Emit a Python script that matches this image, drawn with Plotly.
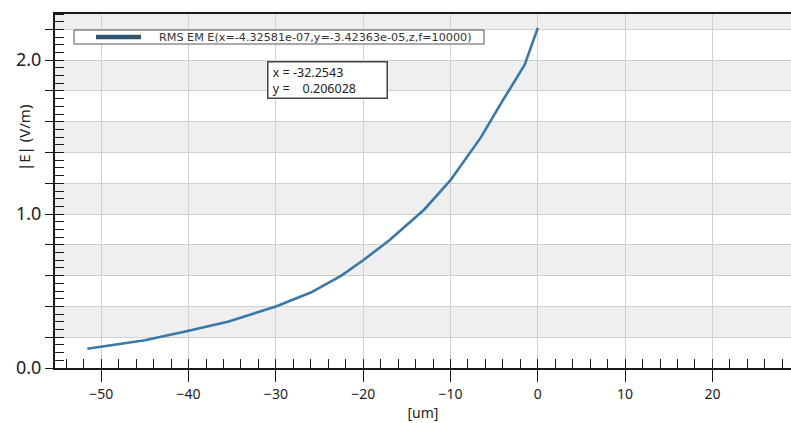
import plotly.graph_objects as go

# ---- data ----
x_um = [-51.6, -48.4, -45.0, -40.5, -35.5, -30.0, -26.0, -22.5, -20.0, -17.0,
        -13.0, -10.0, -6.5, -4.0, -1.5, 0.0]
e_field = [0.125, 0.15, 0.18, 0.235, 0.30, 0.40, 0.49, 0.60, 0.70, 0.83,
           1.03, 1.22, 1.50, 1.74, 1.97, 2.21]
series_name = "RMS EM E(x=-4.32581e-07,y=-3.42363e-05,z,f=10000)"
y_tickvals = [0.0, 0.2, 0.4, 0.6, 0.8, 1.0, 1.2, 1.4, 1.6, 1.8, 2.0, 2.2]
y_ticktext = ["0.0", "", "", "", "", "1.0", "", "", "", "", "2.0", ""]
band_starts = [0.2, 0.6, 1.0, 1.4, 1.8, 2.2]
band_height = 0.2
cursor_lines = ["x = -32.2543", "y = \u00a0\u00a0 0.206028"]

X_RANGE = [-55.3, 29.0]
Y_RANGE = [0.0, 2.3]

W, H = 791, 423
ML, MR, MT, MB = 55, 0, 14, 55
pw = W - ML - MR
ph = H - MT - MB


def px_x(p):  # pixel column -> paper x
    return (p - ML) / pw


def px_y(p):  # pixel row -> paper y
    return (H - MB - p) / ph


fig = go.Figure()
fig.add_trace(go.Scatter(
    x=x_um, y=e_field, mode="lines", name=series_name, showlegend=False,
    line=dict(color="#3a78a8", width=2.6),
))

shapes = []
for b in band_starts:
    shapes.append(dict(type="rect", xref="paper", yref="y", x0=0, x1=1,
                       y0=b, y1=min(b + band_height, Y_RANGE[1]),
                       fillcolor="#efefef", line=dict(width=0), layer="below"))
# legend box drawn by hand (to match the reference's spacing)
shapes.append(dict(type="rect", xref="paper", yref="paper",
                   x0=px_x(74), x1=px_x(484), y0=px_y(44), y1=px_y(30),
                   fillcolor="white", line=dict(color="#555", width=1), layer="above"))
shapes.append(dict(type="line", xref="paper", yref="paper",
                   x0=px_x(96), x1=px_x(141), y0=px_y(37), y1=px_y(37),
                   line=dict(color="#34556f", width=4.5), layer="above"))

axis_font = dict(family="Noto Sans, Open Sans, sans-serif", color="#222")
cursor_text = "<br>".join("\u00a0" + s for s in cursor_lines)

fig.update_layout(
    width=W, height=H,
    margin=dict(l=ML, r=MR, t=MT, b=MB, pad=0, autoexpand=False),
    paper_bgcolor="white", plot_bgcolor="white",
    shapes=shapes,
    showlegend=False,
    xaxis=dict(range=X_RANGE, dtick=10, tick0=0, showgrid=True, gridcolor="#cfcfcf",
               gridwidth=1, zeroline=False, showline=True, linecolor="#1a1a1a",
               linewidth=2, mirror=True, ticks="outside", ticklen=12, tickwidth=1.3,
               tickcolor="#1a1a1a", tickfont=dict(size=14, **axis_font),
               minor=dict(dtick=2, tick0=0, ticks="inside", ticklen=9, tickwidth=1.3,
                          tickcolor="#1a1a1a", showgrid=False),
               title=dict(text="[um]", font=dict(size=14, **axis_font), standoff=2)),
    yaxis=dict(range=Y_RANGE, tickmode="array", tickvals=y_tickvals, ticktext=y_ticktext,
               showgrid=True, gridcolor="#cfcfcf", gridwidth=1, zeroline=False,
               showline=True, linecolor="#1a1a1a", linewidth=2,
               ticks="outside", ticklen=8, tickwidth=1.3, tickcolor="#1a1a1a",
               tickfont=dict(size=18, **axis_font),
               minor=dict(dtick=0.05, tick0=0, ticks="inside", ticklen=9, tickwidth=1.3,
                          tickcolor="#1a1a1a", showgrid=False)),
    annotations=[
        dict(text=series_name, xref="paper", yref="paper",
             x=px_x(157), y=px_y(37), xanchor="left", yanchor="middle",
             showarrow=False,
             font=dict(family="DejaVu Sans, sans-serif", size=11.2, color="#333")),
        dict(text=cursor_text, xref="paper", yref="paper",
             x=px_x(267), y=px_y(61), xanchor="left", yanchor="top",
             showarrow=False, align="left", bgcolor="white", bordercolor="#444",
             borderwidth=1.5, borderpad=1, width=116,
             font=dict(family="Noto Sans, sans-serif", size=12.5, color="#222")),
        dict(text="|E| (V/m)", xref="paper", yref="paper", textangle=-90,
             x=px_x(24), y=px_y(138), xanchor="center", yanchor="middle",
             showarrow=False, font=dict(size=15, **axis_font)),
    ],
)

fig.write_html("out.html", config={"displayModeBar": False},
               post_script="document.body.style.margin='0';document.body.style.overflow='hidden';")
